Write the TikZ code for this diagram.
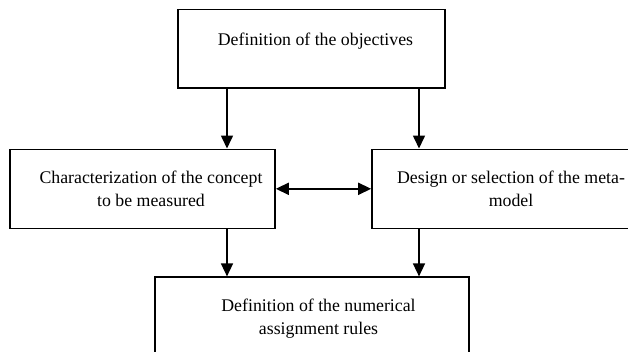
\documentclass[tikz,border=0pt]{standalone}
\usepackage{fontspec}
\setmainfont{Liberation Serif}
\usetikzlibrary{arrows.meta}
\begin{document}
\begin{tikzpicture}[x=1pt,y=-1pt,
  box/.style={draw=black,line width=1.6pt,rectangle,inner sep=0pt},
  lbl/.style={align=center,anchor=base,inner sep=0pt,font=\fontsize{17.8}{23.5}\selectfont},
  arr/.style={line width=1.6pt,-{Triangle[length=13pt,width=12pt]}},
  darr/.style={line width=1.6pt,{Triangle[length=13pt,width=12pt]}-{Triangle[length=13pt,width=12pt]}}]
\useasboundingbox (0,0) rectangle (628,351);
\clip (0,0) rectangle (628,351);
\fill[white] (0,0) rectangle (628,351);
% boxes
\node[box,minimum width=267pt,minimum height=78.4pt] (top) at (311.5,48.5) {};
\node[box,minimum width=265pt,minimum height=79pt] (left) at (142.5,188.8) {};
\node[box,minimum width=268pt,minimum height=79pt] (right) at (506,188.8) {};
\node[box,minimum width=314pt,minimum height=103pt] (bot) at (312,328.7) {};
% texts (base anchor = baseline of the last line)
\node[lbl] (ttop) at (315.5,45.5) {Definition of the objectives};
\node[lbl] (tleft) at (151,206.7) {Characterization of the concept\\to be measured};
\node[lbl] (tright) at (511,206.7) {Design or selection of the meta-\\model};
\node[lbl] (tbot) at (318.5,334.5) {Definition of the numerical\\assignment rules};
% connectors
\coordinate (cx1) at (227,0);
\coordinate (cx2) at (419,0);
\draw[arr] (top.south -| cx1) -- (left.north -| cx1);
\draw[arr] (top.south -| cx2) -- (right.north -| cx2);
\draw[arr] (left.south -| cx1) -- (bot.north -| cx1);
\draw[arr] (right.south -| cx2) -- (bot.north -| cx2);
\draw[darr] (left.east) -- (right.west);
\end{tikzpicture}
\end{document}
